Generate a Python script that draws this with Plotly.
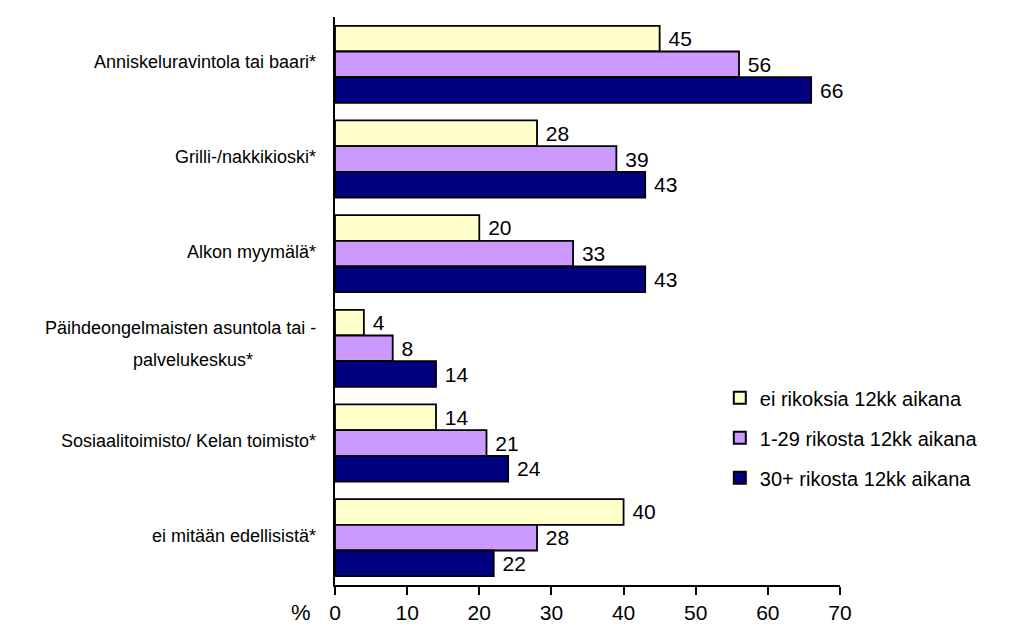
import plotly.graph_objects as go

categories = [
    "Anniskeluravintola tai baari*",
    "Grilli-/nakkikioski*",
    "Alkon myymälä*",
    "Päihdeongelmaisten asuntola tai -<br>palvelukeskus*",
    "Sosiaalitoimisto/ Kelan toimisto*",
    "ei mitään edellisistä*",
]
series_names = ["ei rikoksia 12kk aikana", "1-29 rikosta 12kk aikana", "30+ rikosta 12kk aikana"]
vals_none = [45, 28, 20, 4, 14, 40]
vals_1_29 = [56, 39, 33, 8, 21, 28]
vals_30 = [66, 43, 43, 14, 24, 22]
colors = ["#FFFFCC", "#CC99FF", "#000080"]
x_ticks = [0, 10, 20, 30, 40, 50, 60, 70]

FONT = "Liberation Sans, Arial, sans-serif"
fig = go.Figure()
for k, (name, vals, col) in enumerate(zip(series_names, [vals_none, vals_1_29, vals_30], colors)):
    fig.add_trace(go.Bar(
        y=list(range(len(categories))), x=vals, name=name, orientation="h",
        legendgroup=f"g{k}",
        marker=dict(color=col, line=dict(color="black", width=1.8)),
        text=[str(v) for v in vals], texttemplate=" %{text}", textposition="outside",
        constraintext="none",
        textfont=dict(family=FONT, size=21, color="black"),
        cliponaxis=False,
    ))

for i, c in enumerate(categories):
    lines = c.split("<br>")
    if len(lines) == 1:
        fig.add_annotation(x=0, xref="paper", xanchor="right", xshift=-17,
                           y=i, yref="y", yshift=2, text=c, showarrow=False,
                           font=dict(family=FONT, size=18, color="black"))
    else:
        fig.add_annotation(x=0, xref="paper", xanchor="right", xshift=-17,
                           y=i, yref="y", yshift=20, text=lines[0], showarrow=False,
                           font=dict(family=FONT, size=18, color="black"))
        fig.add_annotation(x=0, xref="paper", xanchor="center", xshift=-142,
                           y=i, yref="y", yshift=-12, text=lines[1], showarrow=False,
                           font=dict(family=FONT, size=18, color="black"))

fig.add_annotation(x=0, xref="paper", xanchor="right", xshift=-22, y=0, yref="paper",
                   yanchor="middle", yshift=-27, text="%", showarrow=False,
                   font=dict(family=FONT, size=22, color="black"))

fig.update_layout(
    width=1019, height=620,
    margin=dict(l=327, r=187, t=9, b=43, autoexpand=False),
    paper_bgcolor="white", plot_bgcolor="white",
    barmode="group", bargap=0.186, bargroupgap=0,
    font=dict(family=FONT, size=16, color="black"),
    xaxis=dict(range=[0, 70], tickvals=x_ticks, ticks="outside", ticklen=8,
               tickwidth=1.5, tickcolor="black", showline=True, linecolor="black",
               linewidth=1.5, showgrid=False, zeroline=False, ticklabelstandoff=0,
               automargin=False,
               tickfont=dict(family=FONT, size=21, color="black")),
    xaxis2=dict(range=[0, 70], tickvals=x_ticks, ticks="inside", ticklen=7,
                tickwidth=1.5, tickcolor="black", showline=False, showgrid=False,
                zeroline=False, showticklabels=False, overlaying="x", anchor="y",
                side="bottom", automargin=False),
    yaxis=dict(range=[5.5, -0.5], showticklabels=False, showline=True,
               linecolor="black", linewidth=1.5, showgrid=False, zeroline=False,
               ticks="", automargin=False),
    legend=dict(x=0.762, y=0.364, xanchor="left", yanchor="top", traceorder="grouped",
                font=dict(family=FONT, size=20, color="black"),
                itemsizing="constant", tracegroupgap=11, bgcolor="rgba(0,0,0,0)"),
    showlegend=True,
)
fig.write_html("out.html")
